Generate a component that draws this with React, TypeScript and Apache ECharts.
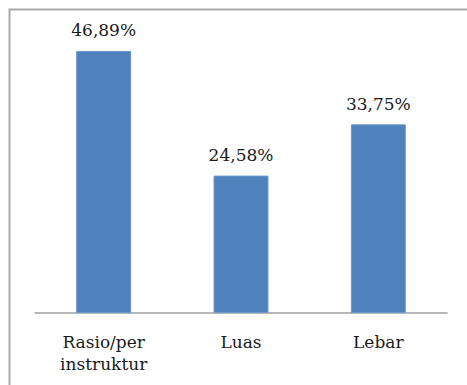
import React, { useEffect, useRef } from "react";
import * as echarts from "echarts";

const categories = ["Rasio/per\ninstruktur", "Luas", "Lebar"];
const values = [46.89, 24.58, 33.75];
const valueLabels = ["46,89%", "24,58%", "33,75%"];

const FONT = "DejaVu Serif";

export default function App() {
  const ref = useRef<HTMLDivElement>(null);
  useEffect(() => {
    document.body.style.margin = "0";
    const chart = echarts.init(ref.current!, null, { renderer: "svg" });
    chart.setOption({
      animation: false,
      backgroundColor: "#ffffff",
      textStyle: { fontFamily: FONT },
      graphic: [
        {
          type: "rect",
          shape: { x: 9.5, y: 9.5, width: 520, height: 420 },
          style: { fill: "none", stroke: "#a9a9a9", lineWidth: 2 },
          silent: true,
        },
      ],
      grid: { left: 35, right: 20, top: 33.5, bottom: 72 },
      xAxis: {
        type: "category",
        data: categories,
        axisLine: { lineStyle: { color: "#a0a0a0", width: 1.5 } },
        axisTick: { show: false },
        axisLabel: {
          color: "#1a1a1a",
          fontFamily: FONT,
          fontSize: 17,
          lineHeight: 22,
          margin: 18,
        },
      },
      yAxis: {
        type: "value",
        min: 0,
        max: 50,
        show: false,
        splitLine: { show: false },
      },
      series: [
        {
          type: "bar",
          data: values,
          barWidth: "40%",
          itemStyle: { color: "#4F81BD", borderColor: "#6b97cc", borderWidth: 1 },
          label: {
            show: true,
            position: "top",
            distance: 12,
            color: "#1a1a1a",
            fontFamily: FONT,
            fontSize: 17,
            formatter: (p: any) => valueLabels[p.dataIndex],
          },
        },
      ],
    });
    return () => chart.dispose();
  }, []);
  return <div ref={ref} style={{ width: 467, height: 385 }} />;
}
